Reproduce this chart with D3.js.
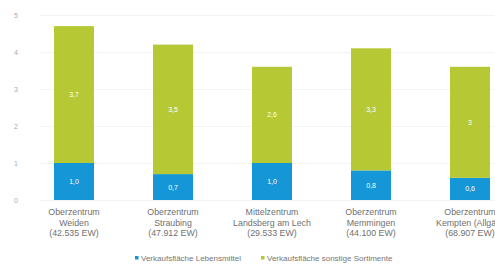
<!DOCTYPE html>
<html>
<head>
<meta charset="utf-8">
<script src="https://cdn.jsdelivr.net/npm/d3@7"></script>
<style>
  body { margin: 0; background: #fff; }
  svg { display: block; font-family: "Liberation Sans", Arial, sans-serif; }
</style>
</head>
<body>
<svg id="chart" width="495" height="267"></svg>
<script>
// data
const categories = [
  ['Oberzentrum', 'Weiden', '(42.535 EW)'],
  ['Oberzentrum', 'Straubing', '(47.912 EW)'],
  ['Mittelzentrum', 'Landsberg am Lech', '(29.533 EW)'],
  ['Oberzentrum', 'Memmingen', '(44.100 EW)'],
  ['Oberzentrum', 'Kempten (Allgäu)', '(68.907 EW)']
];
const lebensmittel = [1.0, 0.7, 1.0, 0.8, 0.6];
const sonstige = [3.7, 3.5, 2.6, 3.3, 3.0];
const lebensLabels = ['1,0', '0,7', '1,0', '0,8', '0,6'];
const sonstigeLabels = ['3,7', '3,5', '2,6', '3,3', '3'];
const yTicks = [0, 1, 2, 3, 4, 5];
const legendNames = ['Verkaufsfläche Lebensmittel', 'Verkaufsfläche sonstige Sortimente'];

const blue = '#1596d6';
const green = '#b6c934';

const svg = d3.select('#chart');

const x = d3.scaleBand()
  .domain(d3.range(categories.length))
  .range([24.5, 519.5])
  .paddingInner(0.596)
  .paddingOuter(0.298);

const y = d3.scaleLinear()
  .domain([0, 5])
  .range([200, 15]);

// gridlines
svg.append('g')
  .selectAll('line')
  .data(yTicks)
  .enter()
  .append('line')
  .attr('x1', 40)
  .attr('x2', 495)
  .attr('y1', d => y(d) + 0.5)
  .attr('y2', d => y(d) + 0.5)
  .attr('stroke', '#f3f3f3');

// y tick labels
svg.append('g')
  .selectAll('text')
  .data(yTicks)
  .enter()
  .append('text')
  .attr('x', 16)
  .attr('y', d => y(d) + 2.5)
  .attr('text-anchor', 'middle')
  .attr('font-size', 7)
  .attr('fill', '#aaa')
  .text(d => d);

// stacks
const stackData = categories.map((c, i) => ({ i, a: lebensmittel[i], b: sonstige[i] }));

const bars = svg.append('g')
  .selectAll('g')
  .data(stackData)
  .enter()
  .append('g');

bars.append('rect')
  .attr('x', d => x(d.i))
  .attr('width', x.bandwidth())
  .attr('y', d => y(d.a))
  .attr('height', d => y(0) - y(d.a))
  .attr('fill', blue);

bars.append('rect')
  .attr('x', d => x(d.i))
  .attr('width', x.bandwidth())
  .attr('y', d => y(d.a + d.b))
  .attr('height', d => y(d.a) - y(d.a + d.b))
  .attr('fill', green);

bars.append('text')
  .attr('x', d => x(d.i) + x.bandwidth() / 2)
  .attr('y', d => (y(0) + y(d.a)) / 2 + 2.5)
  .attr('text-anchor', 'middle')
  .attr('font-size', 7)
  .attr('fill', '#fff')
  .text(d => lebensLabels[d.i]);

bars.append('text')
  .attr('x', d => x(d.i) + x.bandwidth() / 2)
  .attr('y', d => (y(d.a) + y(d.a + d.b)) / 2 + 2.5)
  .attr('text-anchor', 'middle')
  .attr('font-size', 7)
  .attr('fill', '#fff')
  .text(d => sonstigeLabels[d.i]);

// category labels
const cat = svg.append('g')
  .selectAll('text')
  .data(categories)
  .enter()
  .append('text')
  .attr('text-anchor', 'middle')
  .attr('font-size', 8.8)
  .attr('fill', '#707070');

cat.selectAll('tspan')
  .data((d, i) => d.map(t => ({ t, i })))
  .enter()
  .append('tspan')
  .attr('x', d => x(d.i) + x.bandwidth() / 2)
  .attr('y', (d, j) => 215 + j * 10.5)
  .text(d => d.t);

// legend
const legend = svg.append('g')
  .selectAll('g')
  .data(legendNames)
  .enter()
  .append('g')
  .attr('transform', (d, i) => `translate(${i === 0 ? 135 : 261},261)`);

legend.append('rect')
  .attr('x', 0)
  .attr('y', -5)
  .attr('width', 3.5)
  .attr('height', 3.5)
  .attr('fill', (d, i) => i === 0 ? blue : green);

legend.append('text')
  .attr('x', 6)
  .attr('y', 0)
  .attr('font-size', 8)
  .attr('fill', '#777')
  .text(d => d);
</script>
</body>
</html>
